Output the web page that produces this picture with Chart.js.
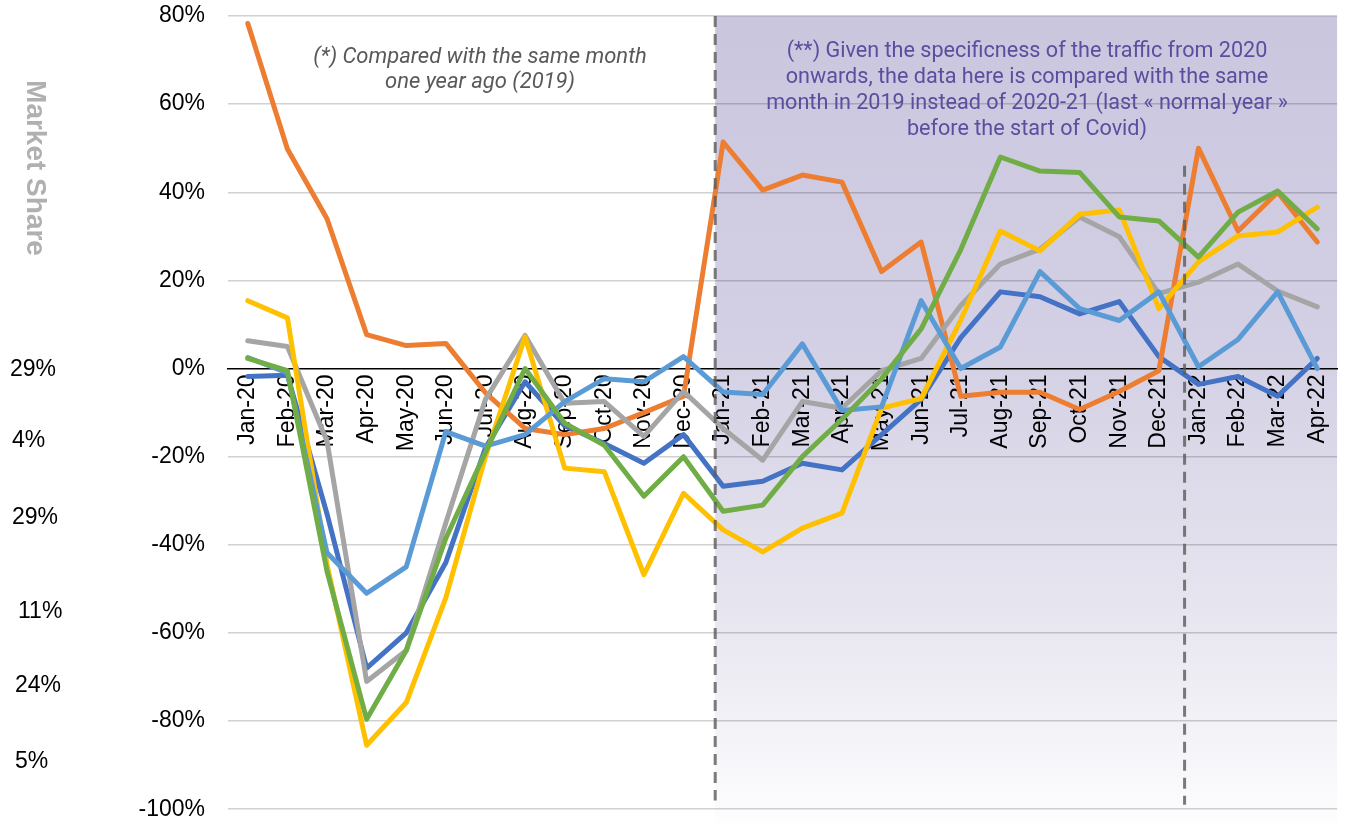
<!DOCTYPE html>
<html>
<head>
<meta charset="utf-8">
<script src="https://cdn.jsdelivr.net/npm/chart.js@4"></script>
<style>
    html, body { margin: 0; padding: 0; background: #fff; }
    #wrap { width: 1345px; height: 823px; position: relative; }
</style>
</head>
<body>
<div id="wrap"><canvas id="trafficChart"></canvas></div>
<script>
const months = ['Jan-20', 'Feb-20', 'Mar-20', 'Apr-20', 'May-20', 'Jun-20', 'Jul-20', 'Aug-20', 'Sep-20', 'Oct-20', 'Nov-20', 'Dec-20',
    'Jan-21', 'Feb-21', 'Mar-21', 'Apr-21', 'May-21', 'Jun-21', 'Jul-21', 'Aug-21', 'Sep-21', 'Oct-21', 'Nov-21', 'Dec-21',
    'Jan-22', 'Feb-22', 'Mar-22', 'Apr-22'];

const blueSeries = [-1.8, -1.5, -33, -68, -60, -44, -18, -3, -13, -17, -21.5, -15, -26.7, -25.6, -21.5, -23, -15, -7, 7, 17.4, 16.3, 12.4, 15.2, 2.7, -3.6, -1.8, -6.3, 2.3];
const orangeSeries = [78.3, 49.8, 34, 7.7, 5.2, 5.7, -5.5, -13.6, -15, -13.6, -10, -6.3, 51.4, 40.5, 43.9, 42.3, 22, 28.7, -6.3, -5.4, -5.4, -9.3, -5.2, -0.5, 50, 31.2, 40, 28.7];
const graySeries = [6.3, 5, -16.5, -71, -64, -35, -7, 7.5, -7.9, -7.5, -15.4, -5.2, -13.6, -20.8, -7.5, -9, -0.5, 2.3, 14.3, 23.7, 27.1, 34.4, 29.9, 17, 19.6, 23.7, 17.6, 14];
const yellowSeries = [15.4, 11.5, -44.5, -85.5, -75.8, -52, -20, 7.2, -22.6, -23.4, -46.8, -28.3, -36.6, -41.6, -36.2, -32.8, -9, -6.8, 11, 31.2, 26.7, 35, 36, 13.6, 24.2, 30.1, 31, 36.6];
const lightBlueSeries = [2.5, -1, -41.8, -51, -45, -14.3, -17.6, -15, -7.5, -2.3, -3, 2.7, -5.3, -5.9, 5.6, -9.5, -8.7, 15.4, 0, 4.9, 22, 13.6, 10.9, 17.4, 0.4, 6.6, 17.4, 0];
const greenSeries = [2.3, -0.5, -46, -79.6, -64, -38.5, -19, 0, -12.4, -17.4, -29, -20, -32.4, -31, -20, -11.5, -2.3, 9, 27, 48, 44.8, 44.5, 34.4, 33.5, 25.3, 35.5, 40.3, 31.7];

const sideLabels = ['29%', '4%', '29%', '11%', '24%', '5%'];
const noteLeft = ['(*) Compared with the same month', 'one year ago (2019)'];
const noteRight = ['(**) Given the specificness of the traffic from 2020',
    'onwards, the data here is compared with the same',
    'month in 2019 instead of 2020-21 (last « normal year »',
    'before the start of Covid)'];

function line(data, color, order) {
    return {
        data: data,
        borderColor: color,
        backgroundColor: color,
        borderWidth: 5,
        pointRadius: 0,
        tension: 0,
        borderCapStyle: 'round',
        borderJoinStyle: 'round',
        order: order
    };
}

// x pixel between two categories (fraction of a step after index i)
function between(x, i, frac) {
    const a = x.getPixelForValue(i);
    const b = x.getPixelForValue(i + 1);
    return a + (b - a) * frac;
}

const decorations = {
    id: 'decorations',
    beforeDraw(chart) {
        const { ctx, chartArea, scales: { x } } = chart;
        const left = between(x, 11, 0.8);
        const grad = ctx.createLinearGradient(0, chartArea.top, 0, chart.height);
        grad.addColorStop(0, '#cac6de');
        grad.addColorStop(0.4, '#d3cfe4');
        grad.addColorStop(0.75, '#e8e6f0');
        grad.addColorStop(1, '#fdfdfe');
        ctx.save();
        ctx.fillStyle = grad;
        ctx.fillRect(left, chartArea.top, chartArea.right - left, chart.height - chartArea.top);
        ctx.restore();
    },
    afterDatasetsDraw(chart) {
        const { ctx, scales: { x, y } } = chart;
        ctx.save();
        ctx.strokeStyle = 'rgba(90, 90, 90, 0.8)';
        ctx.lineWidth = 3;
        ctx.setLineDash([11, 7]);
        const x1 = between(x, 11, 0.8);
        ctx.beginPath();
        ctx.moveTo(x1, y.getPixelForValue(80));
        ctx.lineTo(x1, y.getPixelForValue(-98));
        ctx.stroke();
        const x2 = between(x, 23, 0.65);
        ctx.beginPath();
        ctx.moveTo(x2, y.getPixelForValue(46));
        ctx.lineTo(x2, y.getPixelForValue(-99));
        ctx.stroke();
        ctx.restore();
    },
    afterDraw(chart) {
        const { ctx } = chart;
        ctx.save();
        ctx.textBaseline = 'middle';

        // left-hand figures
        ctx.fillStyle = '#000';
        ctx.font = '23px "Liberation Sans", Arial, sans-serif';
        ctx.textAlign = 'left';
        const sideX = [10, 12, 12, 18, 15, 15];
        const sideY = [370, 441, 518, 612, 686, 762];
        sideLabels.forEach((t, i) => ctx.fillText(t, sideX[i], sideY[i]));

        // rotated axis title
        ctx.save();
        ctx.translate(35, 168);
        ctx.rotate(Math.PI / 2);
        ctx.textAlign = 'center';
        ctx.fillStyle = '#b0b0b0';
        ctx.font = 'bold 28px "Liberation Sans", Arial, sans-serif';
        ctx.fillText('Market Share', 0, 0);
        ctx.restore();

        // notes
        ctx.textAlign = 'center';
        ctx.fillStyle = '#595959';
        ctx.font = 'italic 22px Roboto, sans-serif';
        noteLeft.forEach((t, i) => ctx.fillText(t, 480, 57 + i * 25.5));

        ctx.fillStyle = '#5a4e9e';
        ctx.font = '21.6px Roboto, sans-serif';
        noteRight.forEach((t, i) => ctx.fillText(t, 1027, 52 + i * 25.7));
        ctx.restore();
    }
};

const chart = new Chart(document.getElementById('trafficChart').getContext('2d'), {
    type: 'line',
    data: {
        labels: months,
        datasets: [
            line(blueSeries, '#4472C4', 5),
            line(orangeSeries, '#ED7D31', 4),
            line(graySeries, '#A5A5A5', 3),
            line(yellowSeries, '#FFC000', 2),
            line(lightBlueSeries, '#5B9BD5', 1),
            line(greenSeries, '#70AD47', 0)
        ]
    },
    options: {
        responsive: true,
        maintainAspectRatio: false,
        animation: false,
        layout: { padding: { top: 16, right: 7, bottom: 12, left: 0 } },
        plugins: {
            legend: { display: false },
            tooltip: { enabled: false }
        },
        scales: {
            x: {
                type: 'category',
                position: { y: 0 },
                offset: true,
                grid: { color: 'rgba(0,0,0,0)', drawTicks: true, tickLength: 6 },
                border: { display: true, color: '#000', width: 1.5 },
                ticks: {
                    autoSkip: false,
                    minRotation: 90,
                    maxRotation: 90,
                    padding: 0,
                    color: '#000',
                    font: { family: '"Liberation Sans", Arial, sans-serif', size: 23 }
                },
                afterFit: (scale) => { scale.height = 0; }
            },
            y: {
                min: -100,
                max: 80,
                border: { display: false },
                grid: {
                    drawTicks: true,
                    tickLength: 23,
                    tickColor: 'rgba(0,0,0,0)',
                    lineWidth: 1.5,
                    color: (ctx) => ctx.tick && ctx.tick.value === 0 ? 'rgba(0,0,0,0)' : 'rgba(0,0,0,0.18)'
                },
                ticks: {
                    stepSize: 20,
                    padding: 0,
                    color: '#000',
                    font: { family: '"Liberation Sans", Arial, sans-serif', size: 23 },
                    callback: (v) => v + '%'
                },
                afterFit: (scale) => { scale.width = 228; }
            }
        }
    },
    plugins: [decorations]
});
</script>
</body>
</html>
